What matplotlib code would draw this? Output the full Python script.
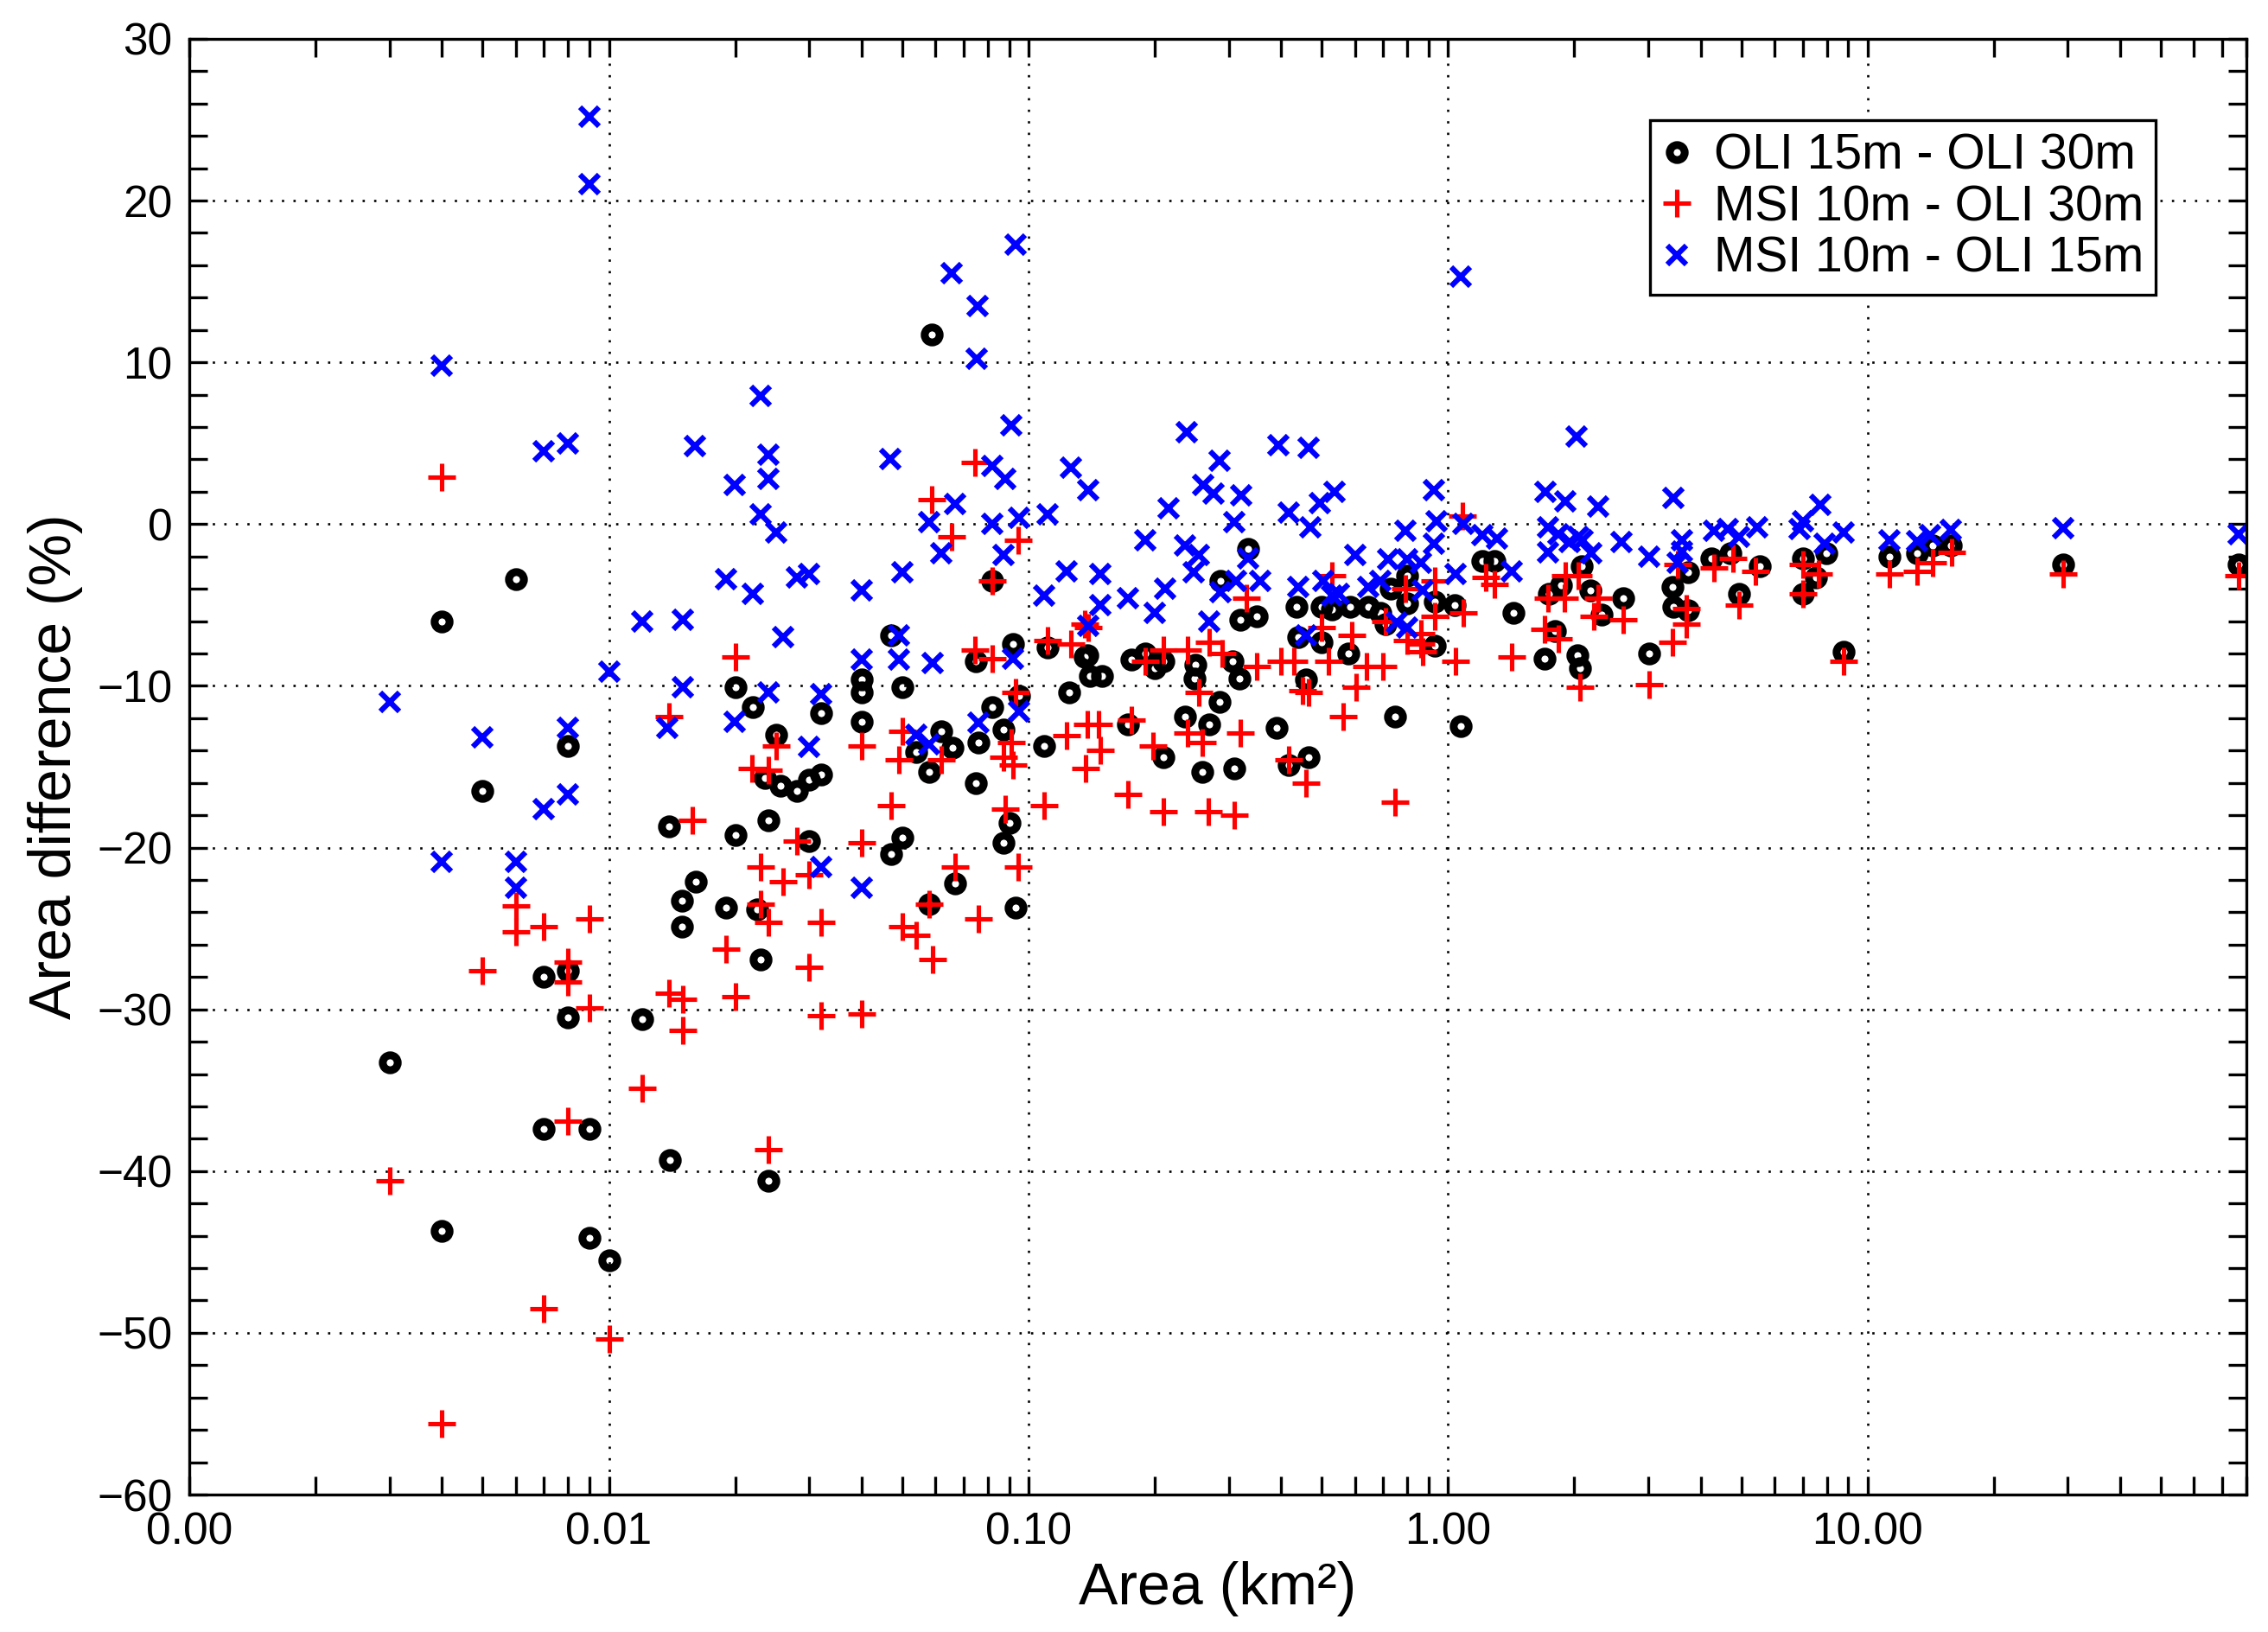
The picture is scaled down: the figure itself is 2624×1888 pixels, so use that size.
import numpy as np
import matplotlib
matplotlib.use("Agg")
import matplotlib.pyplot as plt
from matplotlib.ticker import FixedLocator, FormatStrFormatter, MultipleLocator, LogLocator, NullFormatter

plt.rcParams['font.family'] = ['Liberation Sans', 'DejaVu Sans']
plt.rcParams['lines.scale_dashes'] = False

# OLI 15m - OLI 30m (black circles)
area_oli15_oli30 = [
    0.003, 0.004, 0.004, 0.005, 0.006, 0.007, 0.007, 0.008, 0.008, 0.008,
    0.009, 0.009, 0.010, 0.012, 0.014, 0.024,
    0.0139, 0.020, 0.040, 0.040, 0.050, 0.022, 0.032, 0.040, 0.025, 0.062,
    0.066, 0.054, 0.058, 0.0235, 0.0257, 0.028, 0.030, 0.032, 0.082, 0.095,
    0.125, 0.087, 0.076, 0.109, 0.075, 0.090, 0.087, 0.020, 0.024, 0.030,
    0.050, 0.047, 0.0668, 0.0161, 0.0149, 0.019, 0.0226, 0.0149, 0.058, 0.093,
    0.023,
    0.0589, 0.082, 0.047, 0.092, 0.075, 0.111, 0.136,
    0.334, 0.35, 0.32, 0.287, 0.436, 0.50, 0.53, 0.585, 0.644, 0.69,
    0.73, 0.80, 0.80, 0.93, 1.035, 1.21, 1.29, 1.43, 0.93, 0.71,
    0.50, 0.58, 0.176, 0.19, 0.21, 0.138, 0.25, 0.306, 0.44,
    0.14, 0.15, 0.249, 0.318, 0.20, 0.285, 0.458, 0.748, 1.07, 0.173,
    0.236, 0.27, 0.39, 0.21, 0.26, 0.31, 0.466, 0.417,
    2.08, 1.86, 1.74, 2.18, 2.61, 1.80, 2.32, 3.42, 3.73, 3.45,
    3.73, 4.24, 4.72, 5.54, 4.95, 7.0, 7.98, 7.55, 7.0, 1.70,
    2.03, 2.06, 3.01, 8.77, 11.3, 13.1, 14.3, 15.8, 29.2, 76.7,
]
diff_oli15_oli30 = [
    -33.3, -6.0, -43.7, -16.5, -3.4, -28.0, -37.4, -13.7, -27.6, -30.5,
    -37.4, -44.1, -45.5, -30.6, -39.3, -40.6,
    -18.7, -10.1, -9.6, -10.4, -10.1, -11.3, -11.7, -12.2, -13.0, -12.8,
    -13.8, -14.1, -15.3, -15.7, -16.2, -16.5, -15.8, -15.5, -11.3, -10.6,
    -10.4, -12.7, -13.5, -13.7, -16.0, -18.5, -19.7, -19.2, -18.3, -19.6,
    -19.4, -20.4, -22.2, -22.1, -23.3, -23.7, -23.8, -24.9, -23.5, -23.7,
    -26.9,
    11.7, -3.5, -6.9, -7.4, -8.5, -7.6, -8.2,
    -1.55, -5.7, -5.9, -3.5, -5.1, -5.1, -5.3, -5.1, -5.1, -5.5,
    -4.0, -3.2, -4.9, -4.8, -5.0, -2.3, -2.3, -5.5, -7.5, -6.2,
    -7.3, -8.0, -8.4, -8.0, -8.5, -8.1, -8.7, -8.5, -7.0,
    -9.4, -9.4, -9.55, -9.55, -8.9, -11.0, -9.6, -11.9, -12.5, -12.4,
    -11.9, -12.4, -12.6, -14.4, -15.3, -15.1, -14.4, -14.9,
    -2.6, -3.8, -4.3, -4.1, -4.6, -6.6, -5.6, -3.9, -3.0, -5.1,
    -5.35, -2.1, -1.8, -2.6, -4.3, -2.1, -1.8, -3.3, -4.3, -8.3,
    -8.1, -8.9, -8.0, -7.9, -2.0, -1.8, -1.3, -1.3, -2.5, -2.5,
]

# MSI 10m - OLI 30m (red plus)
area_msi10_oli30 = [
    0.003, 0.004, 0.004, 0.005, 0.006, 0.006, 0.007, 0.007, 0.008, 0.008,
    0.008, 0.009, 0.009, 0.010, 0.012, 0.0139, 0.015, 0.015, 0.0139, 0.0158,
    0.024,
    0.025, 0.040, 0.050, 0.049, 0.062, 0.0219, 0.024, 0.093, 0.091, 0.087,
    0.092, 0.123, 0.137, 0.138, 0.047, 0.088, 0.109, 0.028, 0.040, 0.023,
    0.026, 0.030, 0.0668, 0.0946, 0.023, 0.024, 0.032, 0.058, 0.076, 0.050,
    0.054, 0.059, 0.019, 0.030, 0.020, 0.032, 0.040,
    0.0746, 0.0589, 0.0657, 0.0946, 0.082, 0.020, 0.0746, 0.082, 0.111, 0.126,
    0.136,
    0.139, 0.33, 0.53, 0.93, 0.79, 1.23, 1.29, 1.09, 0.93, 0.50,
    0.59, 0.80, 0.86, 1.04, 1.42, 0.27, 0.29, 0.21, 0.24, 0.19,
    0.35, 0.40, 0.43, 0.52, 0.64, 0.70, 0.71, 1.08,
    0.255, 0.45, 0.466, 0.604, 0.563, 0.147, 0.176, 0.24, 0.26, 0.32,
    0.198, 0.148, 0.417, 0.458, 0.173, 0.21, 0.268, 0.31, 0.748,
    0.86, 0.87, 1.90, 2.04, 1.89, 1.73, 2.28, 2.23, 2.61, 1.70,
    1.83, 2.06, 3.01, 3.7, 3.7, 3.42, 3.53, 4.30, 4.77, 5.4,
    4.95, 7.0, 7.65, 7.0,
    8.77, 11.3, 13.1, 14.3, 15.9, 29.2, 76.7,
]
diff_msi10_oli30 = [
    -40.6, 2.9, -55.6, -27.6, -23.6, -25.2, -24.9, -48.5, -27.1, -28.3,
    -36.9, -24.4, -29.9, -50.4, -34.9, -29.0, -29.4, -31.3, -11.9, -18.3,
    -38.7,
    -13.7, -13.7, -12.8, -14.6, -14.6, -15.1, -15.2, -10.4, -13.5, -14.4,
    -14.9, -13.1, -15.1, -12.4, -17.4, -17.6, -17.4, -19.6, -19.7, -21.2,
    -22.1, -21.7, -21.2, -21.2, -23.5, -24.6, -24.6, -23.5, -24.4, -24.9,
    -25.4, -26.9, -26.3, -27.4, -29.2, -30.4, -30.3,
    3.8, 1.5, -0.8, -1.0, -3.5, -8.2, -7.8, -8.3, -7.2, -7.4,
    -6.2,
    -6.4, -4.6, -3.2, -3.5, -4.0, -3.3, -3.7, -5.5, -5.7, -6.4,
    -6.9, -7.2, -7.4, -8.5, -8.2, -7.3, -8.0, -7.8, -7.8, -8.5,
    -8.8, -8.5, -8.5, -8.5, -8.8, -8.8, -6.0, 0.5,
    -10.4, -10.3, -10.4, -10.1, -11.9, -12.4, -12.1, -12.9, -13.5, -12.9,
    -13.7, -14.0, -14.6, -16.0, -16.7, -17.8, -17.8, -18.0, -17.2,
    -6.75, -7.9, -3.2, -3.2, -4.6, -4.6, -4.6, -5.7, -5.9, -6.5,
    -7.1, -10.1, -9.9, -5.2, -6.2, -7.3, -2.5, -2.7, -2.1, -2.9,
    -5.0, -2.5, -3.1, -4.3,
    -8.5, -3.1, -2.9, -2.4, -1.75, -3.1, -3.2,
]

# MSI 10m - OLI 15m (blue x)
area_msi10_oli15 = [
    0.003, 0.004, 0.004, 0.005, 0.006, 0.006, 0.007, 0.007, 0.008, 0.008,
    0.008, 0.009, 0.009, 0.010, 0.012, 0.0138, 0.015, 0.015,
    0.093, 0.0657, 0.0758, 0.0752, 0.023, 0.091, 0.016, 0.024, 0.024, 0.0199,
    0.0468, 0.082, 0.088, 0.126, 0.067, 0.023, 0.025, 0.058, 0.082, 0.095,
    0.111, 0.062, 0.087, 0.030, 0.028, 0.019, 0.022, 0.040, 0.050, 0.123,
    0.109, 0.026, 0.049, 0.040, 0.049, 0.059, 0.092,
    0.024, 0.032, 0.0199, 0.030, 0.054, 0.058, 0.076, 0.095, 0.032, 0.040,
    1.07, 0.238, 0.285, 0.394, 0.466, 0.139, 0.261, 0.276, 0.321, 0.216,
    0.537, 0.496, 0.417, 0.31, 0.469, 0.927, 0.94, 0.79, 1.09, 1.21,
    1.31, 0.19, 0.236, 0.255, 0.60, 0.927, 0.72, 0.80, 0.86, 0.148,
    0.247, 0.334, 0.356, 1.42, 1.04, 0.173, 0.212, 0.148, 0.20, 0.287,
    0.313, 0.44, 0.504, 0.55, 0.644, 0.69, 0.87, 0.27, 0.139, 0.755,
    0.80, 0.458, 0.53,
    2.02, 1.71, 1.90, 2.28, 3.45, 7.7, 7.0, 6.9, 1.73, 1.83,
    2.04, 1.73, 1.95, 2.09, 2.19, 2.59, 3.01, 3.61, 3.61, 3.53,
    4.30, 4.65, 4.95, 5.45, 7.9, 8.77,
    11.3, 13.1, 14.1, 15.8, 29.2, 76.7,
]
diff_msi10_oli15 = [
    -11.0, 9.8, -20.9, -13.2, -20.9, -22.5, 4.5, -17.6, 5.0, -12.6,
    -16.7, 25.2, 21.0, -9.1, -6.0, -12.6, -5.9, -10.1,
    17.3, 15.5, 13.5, 10.2, 7.9, 6.1, 4.8, 4.3, 2.8, 2.4,
    4.0, 3.6, 2.8, 3.5, 1.25, 0.6, -0.5, 0.1, 0.0, 0.4,
    0.6, -1.8, -1.9, -3.1, -3.3, -3.4, -4.3, -4.1, -3.0, -2.9,
    -4.4, -7.0, -6.9, -8.4, -8.4, -8.6, -8.3,
    -10.4, -10.5, -12.2, -13.75, -13.0, -13.6, -12.3, -11.6, -21.2, -22.5,
    15.3, 5.7, 3.9, 4.9, 4.7, 2.1, 2.4, 1.9, 1.8, 1.0,
    2.0, 1.3, 0.7, 0.1, -0.2, 2.1, 0.2, -0.4, 0.0, -0.7,
    -0.9, -1.0, -1.3, -1.9, -1.9, -1.2, -2.2, -2.2, -2.4, -3.1,
    -3.0, -2.1, -3.5, -2.9, -3.1, -4.6, -4.0, -5.0, -5.5, -4.2,
    -3.5, -3.9, -3.5, -4.3, -3.9, -3.5, -4.1, -6.0, -6.3, -6.1,
    -6.4, -6.9, -4.4,
    5.4, 2.0, 1.4, 1.1, 1.6, 1.2, 0.2, -0.3, -0.2, -0.6,
    -0.8, -1.75, -1.1, -1.0, -1.8, -1.1, -2.0, -1.0, -1.7, -2.4,
    -0.4, -0.3, -0.8, -0.2, -1.2, -0.5,
    -1.0, -1.05, -0.7, -0.35, -0.26, -0.6,
]

x_ticks = [0.001, 0.01, 0.1, 1, 10]
y_ticks = [-60, -50, -40, -30, -20, -10, 0, 10, 20, 30]

fig = plt.figure(figsize=(26.24, 18.88), dpi=100)
ax = fig.add_axes([0.0835, 0.0842, 0.9070, 0.8920])

ax.plot(area_oli15_oli30, diff_oli15_oli30, linestyle='none', marker='o',
        markersize=12.5, markerfacecolor='none', markeredgecolor='black',
        markeredgewidth=6.5, label='OLI 15m - OLI 30m')
ax.plot(area_msi10_oli30, diff_msi10_oli30, linestyle='none', marker='+',
        markersize=23, markeredgecolor='#ff0000', markeredgewidth=3.7,
        label='MSI 10m - OLI 30m')
ax.plot(area_msi10_oli15, diff_msi10_oli15, linestyle='none', marker='x',
        markersize=16, markeredgecolor='#0000ff', markeredgewidth=4.5,
        label='MSI 10m - OLI 15m')

ax.set_xscale('log')
ax.set_xlim(0.001, 80)
ax.set_ylim(-60, 30)

ax.xaxis.set_major_locator(FixedLocator(x_ticks))
ax.xaxis.set_major_formatter(FormatStrFormatter('%.2f'))
ax.xaxis.set_minor_locator(LogLocator(base=10, subs=np.arange(2, 10), numticks=20))
ax.xaxis.set_minor_formatter(NullFormatter())
ax.yaxis.set_major_locator(FixedLocator(y_ticks))
ax.yaxis.set_minor_locator(MultipleLocator(2))

ax.grid(True, which='major', color='black', linestyle=(0, (1.9, 7.7)), linewidth=1.9)
ax.tick_params(which='major', direction='in', length=15, width=2.4, labelsize=37,
               pad=14, top=True, right=True)
ax.tick_params(which='minor', direction='in', length=15, width=2.4,
               top=True, right=True)
for sp in ax.spines.values():
    sp.set_linewidth(2.4)

ax.set_xlabel('Area (km²)', fontsize=49, labelpad=6)
ax.set_ylabel('Area difference (%)', fontsize=49, labelpad=12)

leg = ax.legend(loc='upper right', bbox_to_anchor=(0.956, 0.944), fontsize=41,
                frameon=True, fancybox=False, numpoints=1, handlelength=0.6,
                handletextpad=0.45, borderpad=0.25, labelspacing=0.1,
                borderaxespad=0)
leg.get_frame().set_edgecolor('black')
leg.get_frame().set_linewidth(2.4)
leg.get_frame().set_alpha(1)

fig.savefig('out.png', dpi=100)
